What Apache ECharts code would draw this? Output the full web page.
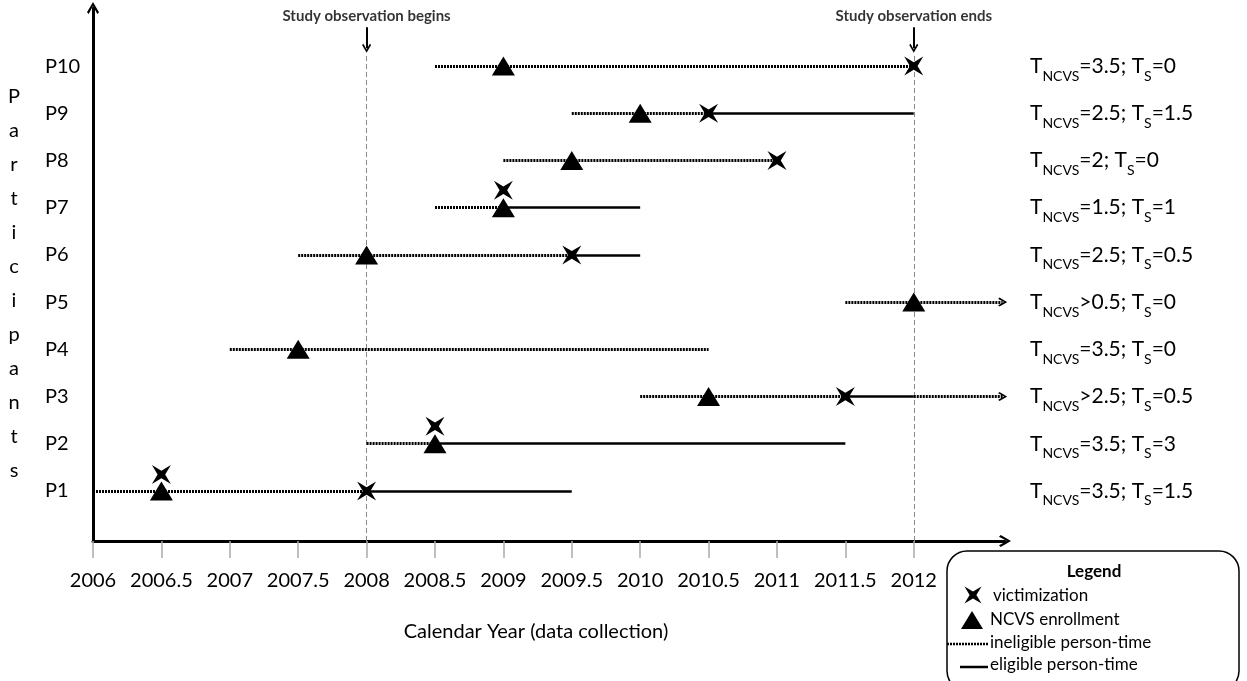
<!DOCTYPE html>
<html><head><meta charset="utf-8">
<script src="https://cdn.jsdelivr.net/npm/echarts@6/dist/echarts.min.js"></script>
<style>html,body{margin:0;padding:0;background:#fff}#c{width:1247px;height:681px}</style>
</head><body><div id="c"></div>
<script>
// ---- data ----
const participants = ['P1','P2','P3','P4','P5','P6','P7','P8','P9','P10'];
const rows = [1,2,3,4,5,6,7,8,9,10];
const xTicks = [2006,2006.5,2007,2007.5,2008,2008.5,2009,2009.5,2010,2010.5,2011,2011.5,2012];
// T labels per participant (P1..P10)
const tNcvs = ['=3.5','=3.5','>2.5','=3.5','>0.5','=2.5','=1.5','=2','=2.5','=3.5'];
const tS    = ['1.5','3','0.5','0','0','0.5','1','0','1.5','0'];
// segments: [row, start, end]
const ineligible = [[1,2006,2008],[2,2008,2008.5],[3,2010,2011.5],[4,2007,2010.5],[6,2007.5,2009.5],[7,2008.5,2009],[8,2009,2011],[9,2009.5,2010.5],[10,2008.5,2012]];
const ineligibleOpen = [[3,2012,2012.65],[5,2011.5,2012.65]];
const eligible = [[1,2008,2009.5],[2,2008.5,2011.5],[3,2011.5,2012],[6,2009.5,2010],[7,2009,2010],[9,2010.5,2012]];
// points: [year, row]
const enrollment = [[2006.5,1],[2008.5,2],[2010.5,3],[2007.5,4],[2012,5],[2008,6],[2009,7],[2009.5,8],[2010,9],[2009,10]];
const victimization = [[2006.5,1.35],[2008,1],[2008.5,2.37],[2011.5,3],[2009.5,6],[2009,7.37],[2011,8],[2010.5,9],[2012,10]];
const refYears = [2008, 2012];
const annotations = ['Study observation begins', 'Study observation ends'];
const legendItems = ['victimization', 'NCVS enrollment', 'ineligible person-time', 'eligible person-time'];
const axisName = 'Calendar Year (data collection)';
const yTitle = 'Participants';

// ---- styles ----
const FONT = 'Lato, "Open Sans", sans-serif';
const chevron = 'path://M5,0 L10,8.6 L8.6,10 L5,3.4 L1.4,10 L0,8.6 Z';
const xPts = [[0,0],[10,6],[20,0],[14,10],[20,20],[10,14],[0,20],[6,10]];
const xMark = 'path://M' + xPts.map(p => p[0] + ',' + p[1]).join(' L') + ' Z';
const dotted = {color:'#000', width:3, type:[2,1], opacity:1, curveness:0};
const solid = {color:'#000', width:2.5, type:'solid', opacity:1, curveness:0};
const Y_MIN = -0.06, Y_MAX = 11.23, X_MIN = 2006, X_MAX = 2012.667;

function seg(list){ return list.map(s => ({coords: [[s[1], s[0]], [s[2], s[0]]]})); }
function xPoly(cx, cy, s){
  const k = s / 20;
  return xPts.map(p => [cx + (p[0]-10)*k, cy + (p[1]-10)*k]);
}

const chart = echarts.init(document.getElementById('c'), null, {renderer:'canvas'});
chart.setOption({
  animation: false,
  backgroundColor: '#fff',
  grid: {left: 93, right: 242, top: 8, bottom: 140, containLabel: false},
  xAxis: {
    type: 'value', min: X_MIN, max: X_MAX,
    axisLine: {show: true, onZero: false, symbol: ['none', chevron], symbolSize: [12, 12], lineStyle: {color:'#000', width:3}},
    axisTick: {show: true, customValues: xTicks, length: 17, lineStyle: {color:'#aaa', width:1.5}},
    axisLabel: {customValues: xTicks, margin: 30, fontSize: 20, color:'#000', fontFamily: FONT, formatter: v => String(v)},
    splitLine: {show: false}
  },
  yAxis: [{
    type: 'value', min: Y_MIN, max: Y_MAX,
    axisLine: {show: true, onZero: false, symbol: ['none', chevron], symbolSize: [12, 12], lineStyle: {color:'#000', width:3}},
    axisTick: {show: false},
    axisLabel: {customValues: rows, formatter: v => participants[v-1], margin: 48, align: 'left', fontSize: 20, color:'#000', fontFamily: FONT},
    splitLine: {show: false}
  }, {
    type: 'value', min: Y_MIN, max: Y_MAX, position: 'right',
    axisLine: {show: false}, axisTick: {show: false}, splitLine: {show: false},
    axisLabel: {
      customValues: rows, margin: 25, align: 'left', fontSize: 21, color:'#000', fontFamily: FONT,
      formatter: v => 'T{s|NCVS}' + tNcvs[v-1] + '; T{s|S}=' + tS[v-1],
      rich: {s: {fontSize: 14, color:'#000', fontFamily: FONT, lineHeight: 14, padding: [20,0,0,0]}}
    }
  }],
  series: [
    {type:'lines', coordinateSystem:'cartesian2d', z:1, silent:true,
     lineStyle:{color:'#888', width:1, type:[5,3], opacity:1},
     data: refYears.map(x => ({coords: [[x, Y_MIN], [x, 10.23]]}))},
    {type:'lines', coordinateSystem:'cartesian2d', z:2, silent:true,
     symbol:['none', chevron], symbolSize:[10, 9],
     lineStyle:{color:'#000', width:2, opacity:1},
     data: refYears.map(x => ({coords: [[x, 10.82], [x, 10.38]]}))},
    {type:'scatter', z:2, symbolSize:0, silent:true,
     data: refYears.map((x,i) => [x, 11.06, annotations[i]]),
     label:{show:true, position:'inside', formatter: p => p.data[2], fontSize:15, fontWeight:'bold', color:'#000', fontFamily: FONT}},
    {type:'lines', name:'ineligible person-time', coordinateSystem:'cartesian2d', z:3, silent:true, lineStyle: dotted, data: seg(ineligible)},
    {type:'lines', coordinateSystem:'cartesian2d', z:3, silent:true, lineStyle: dotted,
     symbol:['none', chevron], symbolSize:[11, 9], data: seg(ineligibleOpen)},
    {type:'lines', name:'eligible person-time', coordinateSystem:'cartesian2d', z:3, silent:true, lineStyle: solid, data: seg(eligible)},
    {type:'scatter', name:'NCVS enrollment', z:5, symbol:'triangle', symbolSize:[23,19], itemStyle:{color:'#000', opacity:1}, data: enrollment},
    {type:'scatter', name:'victimization', z:6, symbol: xMark, symbolSize:[19,19], itemStyle:{color:'#000', opacity:1}, data: victimization}
  ],
  graphic: [
    {type:'text', x:14, y:284, style:{text: yTitle.split('').join('\n'), lineHeight:34, fill:'#000', font: '20px ' + FONT, align:'center', verticalAlign:'middle'}},
    {type:'text', x:536, y:632, style:{text: axisName, fill:'#000', font: '20px ' + FONT, align:'center', verticalAlign:'middle'}},
    {type:'rect', shape:{x:947, y:551, width:292, height:140, r:20}, style:{fill:'#fff', stroke:'#000', lineWidth:1.5}},
    {type:'text', x:1094, y:572, style:{text:'Legend', fill:'#000', font:'bold 17px ' + FONT, align:'center', verticalAlign:'middle'}},
    {type:'polygon', shape:{points: xPoly(973, 595, 17)}, style:{fill:'#000'}},
    {type:'polygon', shape:{points:[[961,629],[983,629],[972,611]]}, style:{fill:'#000'}},
    {type:'line', shape:{x1:947, y1:644, x2:988, y2:644}, style:{stroke:'#000', lineWidth:2.5, lineDash:[2,1]}},
    {type:'line', shape:{x1:960, y1:667, x2:988, y2:667}, style:{stroke:'#000', lineWidth:2.5}},
    {type:'text', x:993, y:596, style:{text: legendItems[0], fill:'#000', font:'17px ' + FONT, verticalAlign:'middle'}},
    {type:'text', x:990, y:620, style:{text: legendItems[1], fill:'#000', font:'17px ' + FONT, verticalAlign:'middle'}},
    {type:'text', x:990, y:643, style:{text: legendItems[2], fill:'#000', font:'17px ' + FONT, verticalAlign:'middle'}},
    {type:'text', x:990, y:665, style:{text: legendItems[3], fill:'#000', font:'17px ' + FONT, verticalAlign:'middle'}}
  ]
});
</script>
</body></html>
